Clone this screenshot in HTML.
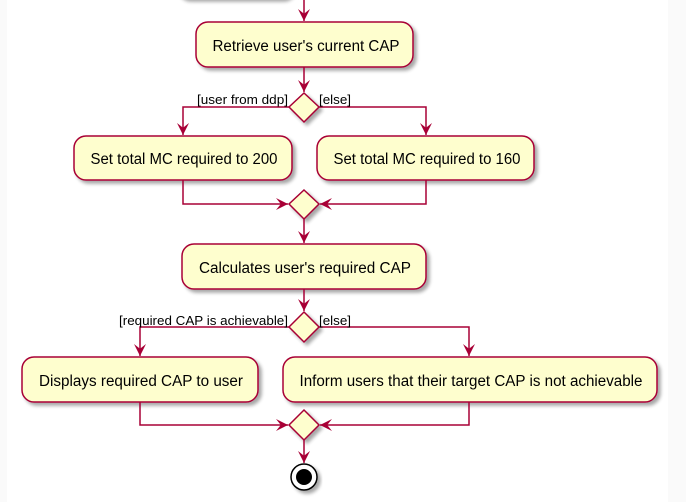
<!DOCTYPE html>
<html><head><style>
body{margin:0;background:#fff}
svg{display:block}
text{font-family:"Liberation Sans",sans-serif;fill:#000}
</style></head><body>
<svg width="686" height="502" viewBox="0 0 686 502" xmlns="http://www.w3.org/2000/svg">
<defs>
<filter id="sh" x="-10%" y="-20%" width="130%" height="150%">
<feGaussianBlur in="SourceAlpha" stdDeviation="1.8"/>
<feOffset dx="3" dy="3" result="o"/>
<feComponentTransfer><feFuncA type="linear" slope="0.35"/></feComponentTransfer>
<feMerge><feMergeNode/><feMergeNode in="SourceGraphic"/></feMerge>
</filter>
<marker id="a" viewBox="0 0 10 10" refX="10" refY="5" markerWidth="12" markerHeight="12" markerUnits="userSpaceOnUse" orient="auto">
<path d="M0,0 L10,5 L0,10 L4,5 Z" fill="#A80036"/>
</marker>
</defs>
<rect x="0" y="0" width="7" height="502" fill="#fafafa"/>
<rect x="668" y="0" width="18" height="502" fill="#fafafa"/>
<g fill="#FEFECE" stroke="#A80036" stroke-width="1.5" filter="url(#sh)">
<rect x="176" y="-30" width="117" height="28" rx="12"/>
<rect x="196" y="22" width="217" height="45" rx="12"/>
<rect x="74" y="136" width="218" height="44" rx="12"/>
<rect x="317" y="136" width="217" height="44" rx="12"/>
<rect x="182" y="244" width="244" height="45" rx="12"/>
<rect x="22" y="357" width="236" height="45" rx="12"/>
<rect x="283" y="357" width="374" height="45" rx="12"/>
<polygon points="304,93 319,107 304,122 289,107"/>
<polygon points="304,190 319,204 304,219 289,204"/>
<polygon points="304,312 319,327 304,342 289,327"/>
<polygon points="304,410 319,425 304,440 289,425"/>
</g>
<g stroke="#A80036" stroke-width="1.5" fill="none">
<line x1="304" y1="0" x2="304" y2="21" marker-end="url(#a)"/>
<line x1="304" y1="67" x2="304" y2="92" marker-end="url(#a)"/>
<polyline points="289,107 183,107 183,135" marker-end="url(#a)"/>
<polyline points="319,107 426,107 426,135" marker-end="url(#a)"/>
<polyline points="183,180 183,204 288,204" marker-end="url(#a)"/>
<polyline points="426,180 426,204 320,204" marker-end="url(#a)"/>
<line x1="304" y1="219" x2="304" y2="243" marker-end="url(#a)"/>
<line x1="304" y1="289" x2="304" y2="311" marker-end="url(#a)"/>
<polyline points="289,327 140,327 140,356" marker-end="url(#a)"/>
<polyline points="319,327 469,327 469,356" marker-end="url(#a)"/>
<polyline points="140,402 140,425 288,425" marker-end="url(#a)"/>
<polyline points="469,402 469,425 320,425" marker-end="url(#a)"/>
<line x1="304" y1="440" x2="304" y2="463" marker-end="url(#a)"/>
</g>
<circle cx="304" cy="477" r="13" fill="#fff" stroke="#000" stroke-width="1.5" filter="url(#sh)"/>
<circle cx="304" cy="477" r="8" fill="#000"/>
<g font-size="15.5" text-anchor="middle">
<text x="306" y="51" textLength="187" lengthAdjust="spacingAndGlyphs">Retrieve user's current CAP</text>
<text x="184" y="164" textLength="187" lengthAdjust="spacingAndGlyphs">Set total MC required to 200</text>
<text x="427" y="164" textLength="187" lengthAdjust="spacingAndGlyphs">Set total MC required to 160</text>
<text x="305" y="273" textLength="212" lengthAdjust="spacingAndGlyphs">Calculates user's required CAP</text>
<text x="141" y="386" textLength="204" lengthAdjust="spacingAndGlyphs">Displays required CAP to user</text>
<text x="471" y="386" textLength="343" lengthAdjust="spacingAndGlyphs">Inform users that their target CAP is not achievable</text>
</g>
<g font-size="13">
<text x="197" y="104" textLength="91" lengthAdjust="spacingAndGlyphs">[user from ddp]</text>
<text x="319" y="104" textLength="32" lengthAdjust="spacingAndGlyphs">[else]</text>
<text x="119" y="325" textLength="169" lengthAdjust="spacingAndGlyphs">[required CAP is achievable]</text>
<text x="319" y="325" textLength="32" lengthAdjust="spacingAndGlyphs">[else]</text>
</g>
</svg>
</body></html>
